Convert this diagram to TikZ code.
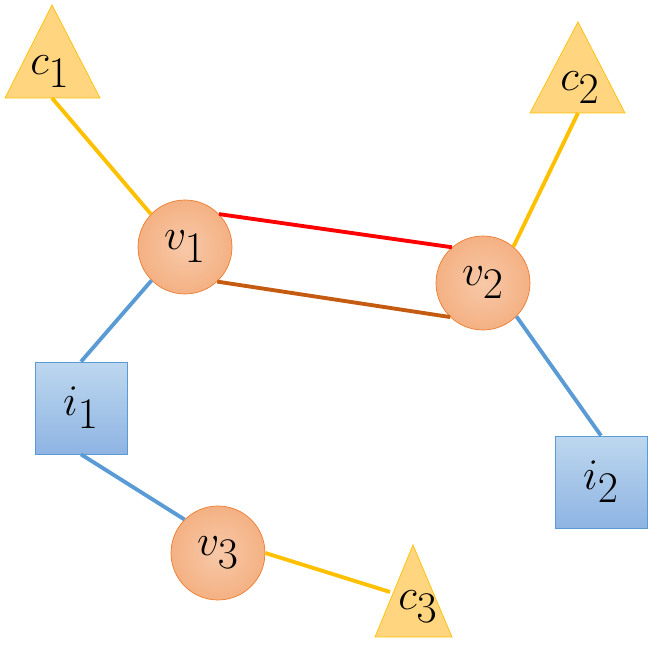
\documentclass[tikz,border=0pt]{standalone}
\usetikzlibrary{positioning}
\definecolor{corange}{HTML}{FFC000}
\definecolor{cfill}{HTML}{FFD580}
\definecolor{vfill}{HTML}{F4B183}
\definecolor{vedge}{HTML}{ED7D31}
\definecolor{bedge}{HTML}{5B9BD5}
\definecolor{btop}{HTML}{BDD7EE}
\definecolor{bbot}{HTML}{8FB4E3}
\definecolor{cbrown}{HTML}{C55A11}
\tikzset{
  vnode/.style={circle, draw=vedge, thin, inner color=vfill!70, outer color=vfill, minimum size=1.88cm, inner sep=0pt, font=\fontsize{38}{40}\selectfont},
  inode/.style={rectangle, draw=bedge, thin, top color=btop, bottom color=bbot, minimum size=1.84cm, inner sep=0pt, font=\fontsize{38}{40}\selectfont},
  clabel/.style={inner sep=0pt, font=\fontsize{38}{40}\selectfont},
  tri/.style={fill=cfill, draw=corange, thin},
  wire/.style={line width=2.2pt},
}
\begin{document}
\begin{tikzpicture}[x=0.02cm, y=-0.02cm]
\useasboundingbox (0,0) rectangle (654,645);
% triangles
\draw[tri] (52,5) -- (100,98) -- (5,98) -- cycle;
\draw[tri] (578,22) -- (625,113) -- (530,113) -- cycle;
\draw[tri] (413,545) -- (452,637) -- (375,637) -- cycle;
\coordinate (c1b) at (52,98);
\coordinate (c2b) at (578,113);
\coordinate (c3b) at (390,592);
\node[clabel] (c1) at (50,72) {$c_1$};
\node[clabel] (c2) at (580,88) {$c_2$};
\node[clabel] (c3) at (418,607) {$c_3$};
% round and square nodes
\node[vnode] (v1) at (185,247) {$v_1$};
\node[vnode] (v2) at (483,283) {$v_2$};
\node[vnode] (v3) at (218,553) {$v_3$};
\node[inode] (i1) at (81,408) {$i_1$};
\node[inode] (i2) at (601,482) {$i_2$};
% links
\draw[wire, corange] (c1b) -- (v1.136);
\draw[wire, corange] (c2b) -- (v2.50);
\draw[wire, corange] (v3.east) -- (c3b);
\draw[wire, red] (v1.44) -- (v2.131);
\draw[wire, cbrown] (v1.-47) -- (v2.226);
\draw[wire, bedge] (v1.225) -- (i1.north);
\draw[wire, bedge] (v2.-45) -- (i2.north);
\draw[wire, bedge] (i1.south) -- (v3.135);
\end{tikzpicture}
\end{document}
